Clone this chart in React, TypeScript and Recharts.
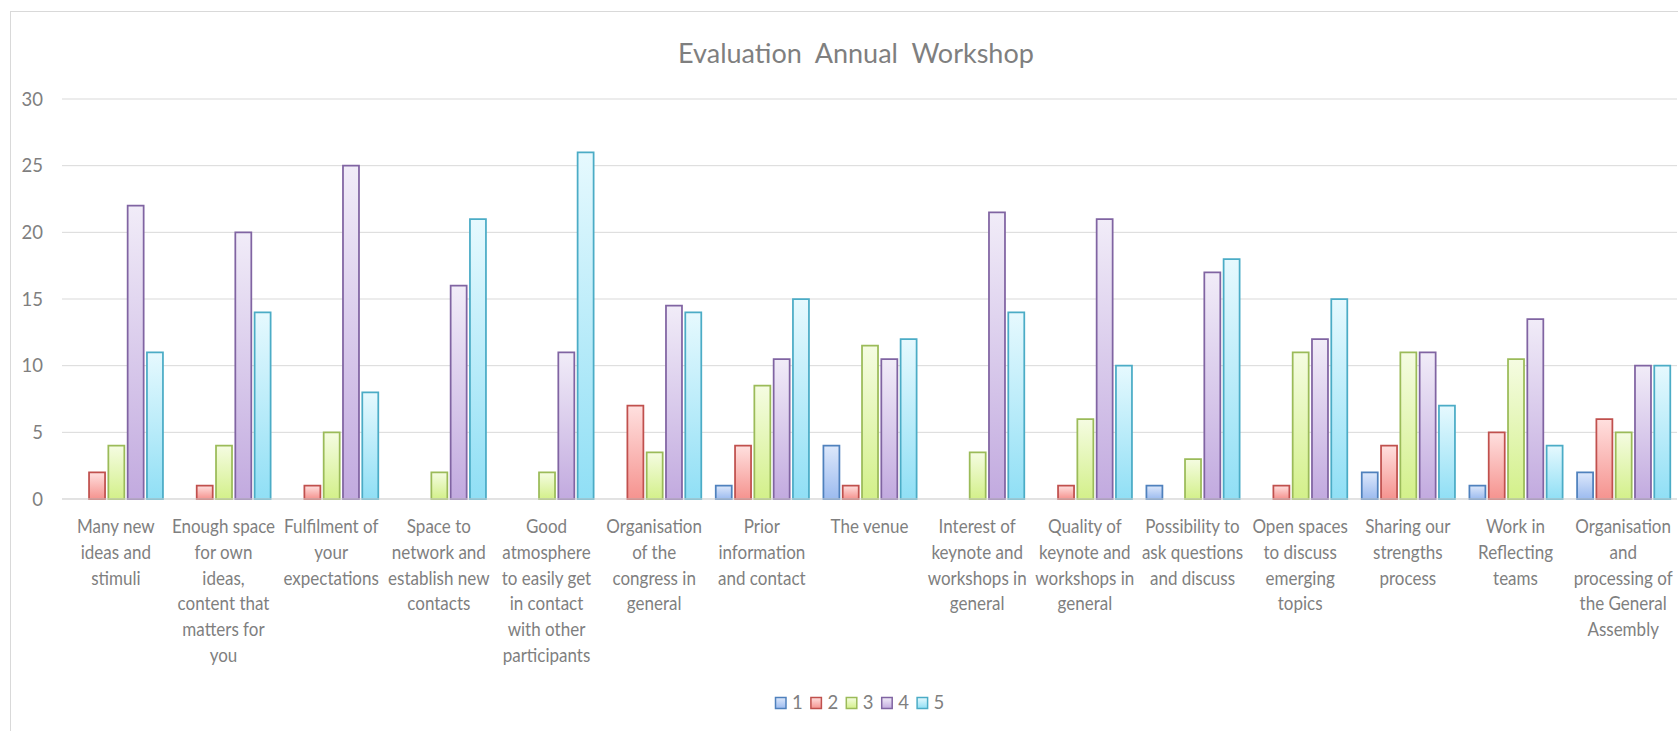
import React from 'react';
import { BarChart, Bar, XAxis, YAxis, CartesianGrid } from 'recharts';

const categories: string[] = [
  'Many new\nideas and\nstimuli',
  'Enough space\nfor own\nideas,\ncontent that\nmatters for\nyou',
  'Fulfilment of\nyour\nexpectations',
  'Space to\nnetwork and\nestablish new\ncontacts',
  'Good\natmosphere\nto easily get\nin contact\nwith other\nparticipants',
  'Organisation\nof the\ncongress in\ngeneral',
  'Prior\ninformation\nand contact',
  'The venue',
  'Interest of\nkeynote and\nworkshops in\ngeneral',
  'Quality of\nkeynote and\nworkshops in\ngeneral',
  'Possibility to\nask questions\nand discuss',
  'Open spaces\nto discuss\nemerging\ntopics',
  'Sharing our\nstrengths\nprocess',
  'Work in\nReflecting\nteams',
  'Organisation\nand\nprocessing of\nthe General\nAssembly',
];

const series1: number[] = [0, 0, 0, 0, 0, 0, 1, 4, 0, 0, 1, 0, 2, 1, 2];
const series2: number[] = [2, 1, 1, 0, 0, 7, 4, 1, 0, 1, 0, 1, 4, 5, 6];
const series3: number[] = [4, 4, 5, 2, 2, 3.5, 8.5, 11.5, 3.5, 6, 3, 11, 11, 10.5, 5];
const series4: number[] = [22, 20, 25, 16, 11, 14.5, 10.5, 10.5, 21.5, 21, 17, 12, 11, 13.5, 10];
const series5: number[] = [11, 14, 8, 21, 26, 14, 15, 12, 14, 10, 18, 15, 7, 4, 10];

const seriesNames: string[] = ['1', '2', '3', '4', '5'];
const seriesKeys: string[] = ['s1', 's2', 's3', 's4', 's5'];
const strokeColors: string[] = ['#4f81bd', '#c0504d', '#9bbb59', '#8064a2', '#4bacc6'];
const topColors: string[] = ['#dde8fb', '#ffe0df', '#f5fce2', '#f1ecf8', '#e6f9fe'];
const bottomColors: string[] = ['#9cbbef', '#f5938f', '#d3f08a', '#c2aadf', '#90dff5'];

const yTicks: number[] = [0, 5, 10, 15, 20, 25, 30];
const title = 'Evaluation  Annual  Workshop';

const allSeries = [series1, series2, series3, series4, series5];
const data = categories.map((name, i) => {
  const row: Record<string, number | string> = { name };
  seriesKeys.forEach((k, j) => {
    row[k] = allSeries[j][i];
  });
  return row;
});

const FONT = 'Lato, "Open Sans", sans-serif';
const TEXT = '#7f7f7f';

const CategoryTick = (props: any) => {
  const { x, y, payload } = props;
  const lines = String(payload.value).split('\n');
  return (
    <g transform={`translate(${x},${y}) scale(0.92,1)`}>
      {lines.map((ln, i) => (
        <text
          key={i}
          x={0}
          y={34 + i * 25.8}
          textAnchor="middle"
          fontFamily={FONT}
          fontSize={18.5}
          fill={TEXT}
        >
          {ln}
        </text>
      ))}
    </g>
  );
};

export default function App() {
  return (
    <div
      style={{
        position: 'absolute',
        left: 0,
        top: 0,
        width: 1678,
        height: 731,
        overflow: 'hidden',
        background: '#ffffff',
      }}
    >
      <div
        style={{
          position: 'absolute',
          left: 10,
          top: 11,
          width: 1720,
          height: 800,
          border: '1px solid #d9d9d9',
          boxSizing: 'border-box',
        }}
      />
      <div style={{ position: 'absolute', left: 0, top: 0 }}>
        <BarChart
          width={1678}
          height={731}
          data={data}
          margin={{ top: 99, right: 1, left: 0, bottom: 0 }}
          barCategoryGap={7.75}
          barGap={3.3}
        >
          <defs>
            {seriesKeys.map((k, i) => (
              <linearGradient key={k} id={`grad-${k}`} x1="0" y1="0" x2="0" y2="1">
                <stop offset="0%" stopColor={topColors[i]} />
                <stop offset="100%" stopColor={bottomColors[i]} />
              </linearGradient>
            ))}
          </defs>
          <CartesianGrid vertical={false} stroke="#d9d9d9" strokeWidth={1} />
          <XAxis
            dataKey="name"
            interval={0}
            height={232}
            tickLine={false}
            tickSize={0}
            tickMargin={0}
            axisLine={{ stroke: '#d9d9d9' }}
            tick={<CategoryTick />}
          />
          <YAxis
            width={62}
            domain={[0, 30]}
            ticks={yTicks}
            interval={0}
            axisLine={false}
            tickLine={false}
            tickSize={0}
            tickMargin={19}
            tick={{ fontFamily: FONT, fontSize: 18.5, fill: TEXT }}
          />
          {seriesKeys.map((k, i) => (
            <Bar
              key={k}
              dataKey={k}
              name={seriesNames[i]}
              fill={`url(#grad-${k})`}
              stroke={strokeColors[i]}
              strokeWidth={1.75}
              isAnimationActive={false}
            />
          ))}
        </BarChart>
      </div>
      <svg
        width={1678}
        height={731}
        style={{ position: 'absolute', left: 0, top: 0, pointerEvents: 'none' }}
      >
        <defs>
          {seriesKeys.map((k, i) => (
            <linearGradient key={k} id={`lgrad-${k}`} x1="0" y1="0" x2="0" y2="1">
              <stop offset="0%" stopColor={topColors[i]} />
              <stop offset="100%" stopColor={bottomColors[i]} />
            </linearGradient>
          ))}
        </defs>
        <text
          x={856}
          y={62.5}
          textAnchor="middle"
          fontFamily={FONT}
          fontSize={27}
          fill={TEXT}
          style={{ whiteSpace: 'pre' }}
        >
          {title}
        </text>
        {seriesNames.map((n, i) => {
          const x0 = 775.5 + i * 35.4;
          return (
            <g key={n}>
              <rect
                x={x0}
                y={697.5}
                width={10.5}
                height={11}
                fill={`url(#lgrad-${seriesKeys[i]})`}
                stroke={strokeColors[i]}
                strokeWidth={1.5}
              />
              <text x={x0 + 16.5} y={709} fontFamily={FONT} fontSize={18.5} fill={TEXT}>
                {n}
              </text>
            </g>
          );
        })}
      </svg>
    </div>
  );
}
